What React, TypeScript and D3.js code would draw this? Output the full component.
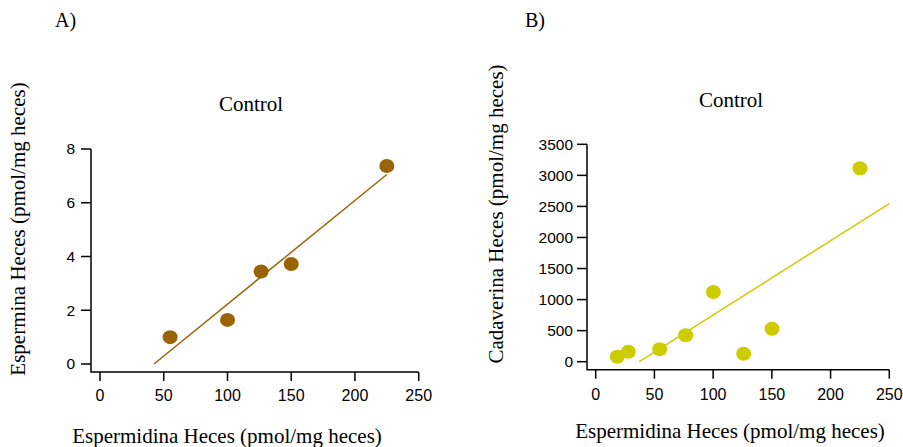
import React from "react";
import * as d3 from "d3";

// Panel A data: Espermidina vs Espermina (Control)
const spermidineA = [55, 100, 126.4, 150, 225];
const spermineA = [1.0, 1.64, 3.44, 3.72, 7.37];
// Panel B data: Espermidina vs Cadaverina (Control)
const spermidineB = [18.4, 27.8, 54.5, 76.6, 100.2, 126, 150.1, 225];
const cadaverineB = [80, 161, 200, 425, 1122, 129, 531, 3114];

const xTicks = [0, 50, 100, 150, 200, 250];
const yTicksA = [0, 2, 4, 6, 8];
const yTicksB = [0, 500, 1000, 1500, 2000, 2500, 3000, 3500];

const panelLabels = ["A)", "B)"];
const panelTitle = "Control";
const xTitle = "Espermidina Heces (pmol/mg heces)";
const yTitleA = "Espermina Heces (pmol/mg heces)";
const yTitleB = "Cadaverina Heces (pmol/mg heces)";

const SERIF = "'Liberation Serif', 'Times New Roman', serif";
const SANS = "'Liberation Sans', Arial, sans-serif";

function fit(xs: number[], ys: number[]) {
  const mx = d3.mean(xs)!;
  const my = d3.mean(ys)!;
  let sxx = 0, sxy = 0;
  xs.forEach((x, i) => {
    sxx += (x - mx) * (x - mx);
    sxy += (x - mx) * (ys[i] - my);
  });
  const slope = sxy / sxx;
  const intercept = my - slope * mx;
  return { slope, intercept };
}

type PanelProps = {
  xs: number[];
  ys: number[];
  yTicks: number[];
  xRange: [number, number];
  yRange: [number, number];
  yDomain: [number, number];
  axisX: number;
  axisY: number;
  axisTop: number;
  color: string;
  lineEnd: number;
  label: string;
  labelX: number;
  titleX: number;
  titleY: number;
  xTitleX: number;
  xTitleY: number;
  yTitle: string;
  yTitleX: number;
  yTitleY: number;
  tickLabelRight: number;
  xLabelY: number;
};

function Panel(p: PanelProps) {
  const x = d3.scaleLinear().domain([0, 250]).range(p.xRange);
  const y = d3.scaleLinear().domain(p.yDomain).range(p.yRange);
  const { slope, intercept } = fit(p.xs, p.ys);
  const x0 = -intercept / slope;
  const linePts: [number, number][] = [
    [x0, 0],
    [p.lineEnd, slope * p.lineEnd + intercept],
  ];
  const line = d3
    .line<[number, number]>()
    .x((d) => x(d[0]))
    .y((d) => y(d[1]));
  const xEnd = p.xRange[1];
  return (
    <g>
      <text x={p.labelX} y={27} fontFamily={SERIF} fontSize={20} fill="#000">
        {p.label}
      </text>
      <text x={p.titleX} y={p.titleY} fontFamily={SERIF} fontSize={21} textAnchor="middle" fill="#000">
        {panelTitle}
      </text>
      {/* axes */}
      <path
        d={`M${p.axisX},${p.axisTop}V${p.axisY}H${xEnd}`}
        fill="none"
        stroke="#000"
        strokeWidth={1.5}
      />
      {p.yTicks.map((t) => (
        <g key={"y" + t}>
          <line x1={p.axisX - 10} x2={p.axisX} y1={y(t)} y2={y(t)} stroke="#000" strokeWidth={1.5} />
          <text
            x={p.tickLabelRight}
            y={y(t)}
            dy="0.35em"
            textAnchor="end"
            fontFamily={SANS}
            fontSize={15.5}
            fill="#000"
          >
            {t}
          </text>
        </g>
      ))}
      {xTicks.map((t) => (
        <g key={"x" + t}>
          <line x1={x(t)} x2={x(t)} y1={p.axisY} y2={p.axisY + 9} stroke="#000" strokeWidth={1.5} />
          <text
            x={x(t)}
            y={p.xLabelY}
            textAnchor="middle"
            fontFamily={SANS}
            fontSize={16}
            fill="#000"
          >
            {t}
          </text>
        </g>
      ))}
      <path d={line(linePts)!} fill="none" stroke={p.color} strokeWidth={1.5} />
      {p.xs.map((v, i) => (
        <ellipse key={i} cx={x(v)} cy={y(p.ys[i])} rx={7.5} ry={7} fill={p.color} />
      ))}
      <text x={p.xTitleX} y={p.xTitleY} textAnchor="middle" fontFamily={SERIF} fontSize={21} fill="#000">
        {xTitle}
      </text>
      <text
        transform={`translate(${p.yTitleX},${p.yTitleY}) rotate(-90)`}
        textAnchor="middle"
        fontFamily={SERIF}
        fontSize={21}
        fill="#000"
      >
        {p.yTitle}
      </text>
    </g>
  );
}

export default function App() {
  return (
    <svg
      width={903}
      height={447}
      style={{ position: "absolute", left: 0, top: 0, background: "#fff" }}
    >
      <rect width={903} height={447} fill="#fff" />
      <Panel
        xs={spermidineA}
        ys={spermineA}
        yTicks={yTicksA}
        xRange={[100, 418.7]}
        yRange={[364, 149]}
        yDomain={[0, 8]}
        axisX={91}
        axisY={372}
        axisTop={149}
        color="#9a6306"
        lineEnd={225}
        label={panelLabels[0]}
        labelX={55}
        titleX={251}
        titleY={111}
        xTitleX={227}
        xTitleY={443}
        yTitle={yTitleA}
        yTitleX={25}
        yTitleY={229}
        tickLabelRight={75}
        xLabelY={401}
      />
      <Panel
        xs={spermidineB}
        ys={cadaverineB}
        yTicks={yTicksB}
        xRange={[595.7, 889.3]}
        yRange={[361.7, 144.3]}
        yDomain={[0, 3500]}
        axisX={587}
        axisY={369.7}
        axisTop={144.3}
        color="#cccc00"
        lineEnd={250}
        label={panelLabels[1]}
        labelX={525}
        titleX={731}
        titleY={107}
        xTitleX={730}
        xTitleY={438}
        yTitle={yTitleB}
        yTitleX={503}
        yTitleY={214}
        tickLabelRight={573}
        xLabelY={400}
      />
    </svg>
  );
}
